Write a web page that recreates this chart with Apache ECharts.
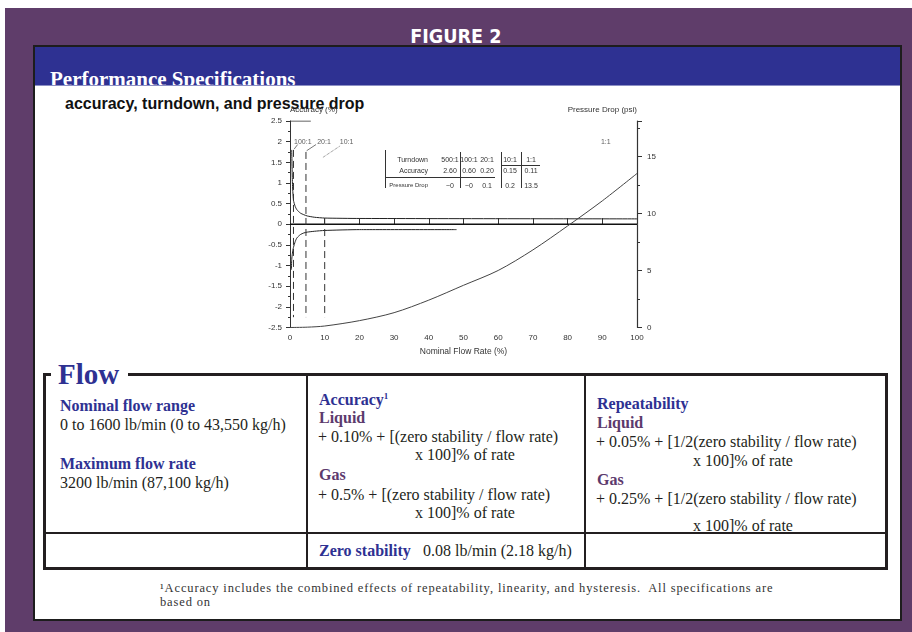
<!DOCTYPE html>
<html>
<head>
    <meta charset="utf-8"/>
    <title>Figure 2</title>
    <script src="https://cdn.jsdelivr.net/npm/echarts@6/dist/echarts.min.js"></script>
    <style>
        body { margin: 0; width: 912px; height: 632px; position: relative; overflow: hidden; background: #fff; font-family: "Liberation Serif", serif; }
        .a { position: absolute; white-space: nowrap; line-height: 1; }
        .t { font-size: 16px; color: #231f20; }
        .hb { font-size: 16px; font-weight: bold; color: #2e3192; }
        .hp { font-size: 16px; font-weight: bold; color: #5c3a6d; }
        .ln { position: absolute; background: #231f20; }
    </style>
</head>
<body>
<!-- frame -->
<div class="a" style="left:5px;top:8px;width:907px;height:624px;background:#5f3d6a;"></div>
<div class="a" style="left:0;top:23.5px;width:912px;text-align:center;">
    <span style="display:inline-block;transform:scaleX(0.88);color:#fff;font:bold 20px 'DejaVu Sans';">FIGURE 2</span>
</div>
<div class="a" style="left:33px;top:45px;width:869px;height:576px;box-sizing:border-box;background:#fff;border:2px solid #1d1d1d;"></div>
<div class="a" style="left:35px;top:47px;width:865px;height:38px;background:#2e3192;overflow:hidden;">
    <div class="a" style="left:15px;top:21.5px;color:#fff;font-size:21px;font-weight:bold;">Performance Specifications</div>
</div>
<div class="a" style="left:35px;top:85px;width:865px;height:1px;background:#8c8fc4;"></div>
<div class="a" style="left:65px;top:94.5px;font:bold 16px 'Liberation Sans';color:#111;">accuracy, turndown, and pressure drop</div>

<!-- flow table -->
<div class="a" style="left:43px;top:372.5px;width:845px;height:197.5px;box-sizing:border-box;border:3px solid #231f20;"></div>
<div class="a" style="left:51px;top:371px;width:77px;height:6px;background:#fff;"></div>
<div class="ln" style="left:306px;top:374px;width:2px;height:195px;"></div>
<div class="ln" style="left:584px;top:374px;width:2px;height:195px;"></div>
<div class="ln" style="left:44px;top:532px;width:843px;height:2px;"></div>
<div class="a" style="left:58px;top:359.7px;font-size:29px;font-weight:bold;color:#2e3192;">Flow</div>

<div class="a hb" style="left:60px;top:398.3px;">Nominal flow range</div>
<div class="a t" style="left:60px;top:416.6px;">0 to 1600 lb/min (0 to 43,550 kg/h)</div>
<div class="a hb" style="left:60px;top:455.9px;">Maximum flow rate</div>
<div class="a t" style="left:60px;top:474.9px;">3200 lb/min (87,100 kg/h)</div>

<div class="a hb" style="left:319px;top:391.6px;">Accuracy<span style="font-size:9px;position:relative;top:-6px;">1</span></div>
<div class="a hp" style="left:319px;top:409.9px;">Liquid</div>
<div class="a t" style="left:318px;top:429.3px;">+ 0.10% + [(zero stability / flow rate)</div>
<div class="a t" style="left:415px;top:447.3px;">x 100]% of rate</div>
<div class="a hp" style="left:319px;top:467.3px;">Gas</div>
<div class="a t" style="left:318px;top:486.6px;">+ 0.5% + [(zero stability / flow rate)</div>
<div class="a t" style="left:415px;top:504.9px;">x 100]% of rate</div>

<div class="a hb" style="left:597px;top:395.9px;">Repeatability</div>
<div class="a hp" style="left:597px;top:414.9px;">Liquid</div>
<div class="a t" style="left:596px;top:433.9px;">+ 0.05% + [1/2(zero stability / flow rate)</div>
<div class="a t" style="left:693px;top:452.6px;">x 100]% of rate</div>
<div class="a hp" style="left:597px;top:471.6px;">Gas</div>
<div class="a t" style="left:596px;top:490.6px;">+ 0.25% + [1/2(zero stability / flow rate)</div>
<div class="a t" style="left:693px;top:517.6px;">x 100]% of rate</div>

<div class="a hb" style="left:319px;top:543.3px;">Zero stability</div>
<div class="a t" style="left:423px;top:543.3px;">0.08 lb/min (2.18 kg/h)</div>

<div class="a" style="left:160px;top:581.5px;font-size:12.5px;letter-spacing:0.86px;color:#333;">¹Accuracy includes the combined effects of repeatability, linearity, and hysteresis.&nbsp; All specifications are</div>
<div class="a" style="left:160px;top:595.5px;font-size:12.5px;letter-spacing:0.86px;color:#333;">based on</div>

<!-- chart -->
<div id="chart1" class="a" style="left:240px;top:96px;width:420px;height:266px;"></div>

<script type="text/javascript">
    // flow rate (%) vs pressure drop (psi)
    var flowX = [0, 5, 10, 20, 30, 40, 50, 60, 70, 80, 90, 100];
    var pressureDrop = [0, 0.03, 0.13, 0.6, 1.3, 2.4, 3.7, 5.0, 6.8, 8.9, 11.1, 13.5];

    // accuracy envelope (%)
    var upperX = [0.5, 0.7, 1, 1.5, 2, 3, 4, 5, 7, 10, 20, 100];
    var upperAcc = [1.8, 1.0, 0.58, 0.43, 0.35, 0.27, 0.23, 0.2, 0.17, 0.15, 0.14, 0.13];
    var lowerX = [0.4, 0.5, 0.7, 1, 1.5, 2, 3, 4, 5, 7, 10, 20, 48];
    var lowerAcc = [-1.1, -0.85, -0.7, -0.56, -0.42, -0.33, -0.25, -0.21, -0.19, -0.17, -0.15, -0.13, -0.13];

    // turndown markers
    var markerX = [1, 4.6, 10];
    var markerTop = [1.8, 1.75, 0.15];
    var markerBottom = [-2.25, -2.25, -2.25];
    var markerNames = ['100:1', '20:1', '10:1', '1:1'];
    var markerLabelX = [3.7, 9.8, 16.3, 91];
    var markerLabelY = [2.0, 2.0, 2.0, 2.0];

    // inset table
    var tdHeaders = ['Turndown', 'Accuracy', 'Pressure Drop'];
    var tdLabels = ['500:1', '100:1', '20:1', '10:1', '1:1'];
    var tdAccuracy = ['2.60', '0.60', '0.20', '0.15', '0.11'];
    var tdPressure = ['~0', '~0', '0.1', '0.2', '13.5'];

    function zip(xs, ys) {
        return xs.map(function (x, i) { return [x, ys[i]]; });
    }

    var txt = '#333';
    var fam = 'Liberation Sans';
    var myChart1 = echarts.init(document.getElementById('chart1'));

    var series = [
        {
            name: 'zero', type: 'line', yAxisIndex: 0, showSymbol: false,
            data: [[0, 0], [100, 0]],
            lineStyle: {color: '#111', width: 1.4}
        },
        {
            name: 'upper', type: 'line', yAxisIndex: 0, showSymbol: false, smooth: 0.2,
            data: zip(upperX, upperAcc),
            lineStyle: {color: '#222', width: 1}
        },
        {
            name: 'lower', type: 'line', yAxisIndex: 0, showSymbol: false, smooth: 0.2,
            data: zip(lowerX, lowerAcc),
            lineStyle: {color: '#222', width: 1}
        },
        {
            name: 'pressure', type: 'line', yAxisIndex: 1, showSymbol: false, smooth: 0.3,
            data: zip(flowX, pressureDrop),
            lineStyle: {color: '#444', width: 1}
        },
        {
            name: 'top', type: 'line', yAxisIndex: 0, showSymbol: false,
            data: [[0, 2.5], [6, 2.5]],
            lineStyle: {color: '#333', width: 1}
        }
    ];
    markerX.forEach(function (x, i) {
        series.push({
            type: 'line', yAxisIndex: 0, showSymbol: false,
            data: [[x, markerTop[i]], [x, markerBottom[i]]],
            lineStyle: {color: '#333', width: 1, type: [7, 4]}
        });
    });
    // leaders from marker tops to labels
    [[[1.2, 1.82], [2.2, 1.93]], [[4.8, 1.78], [7.5, 1.93]], [[9.5, 1.62], [14.5, 1.9]]].forEach(function (d, i) {
        series.push({
            type: 'line', yAxisIndex: 0, showSymbol: false, data: d,
            lineStyle: {color: '#555', width: 0.8, type: i === 2 ? 'dotted' : 'solid'}
        });
    });
    series.push({
        type: 'scatter', yAxisIndex: 0, symbolSize: 0,
        data: zip(markerLabelX, markerLabelY).map(function (p, i) { return {value: p, name: markerNames[i]}; }),
        label: {show: true, position: 'inside', formatter: '{b}', color: txt, fontSize: 7, fontFamily: fam}
    });

    // inset table drawn as graphic
    var colX = [210, 229, 247, 270, 291];
    var rowY = [64, 75, 89.7];
    var headSize = [7, 7, 6];
    var g = [];
    function line(x1, y1, x2, y2) {
        g.push({type: 'line', shape: {x1: x1, y1: y1, x2: x2, y2: y2}, style: {stroke: '#333', lineWidth: 1}});
    }
    function text(x, y, s, align, size) {
        g.push({type: 'text', x: x, y: y, style: {text: s, fill: txt, font: (size || 7) + 'px ' + fam, textAlign: align || 'center', textVerticalAlign: 'middle'}});
    }
    line(145.5, 54, 145.5, 92);
    line(145.5, 81.5, 255, 81.5);
    line(220.5, 56, 220.5, 92);
    line(261.5, 56, 261.5, 92);
    line(281.5, 56, 281.5, 92);
    line(262, 69.5, 300, 69.5);
    tdHeaders.forEach(function (h, r) { text(188, rowY[r], h, 'right', headSize[r]); });
    [tdLabels, tdAccuracy, tdPressure].forEach(function (row, r) {
        row.forEach(function (v, c) { text(colX[c], rowY[r], v); });
    });

    myChart1.setOption({
        animation: false,
        grid: {left: 50, right: 23, top: 25, bottom: 34.5},
        xAxis: {
            type: 'value', min: 0, max: 100, interval: 10,
            name: 'Nominal Flow Rate (%)', nameLocation: 'middle', nameGap: 20,
            nameTextStyle: {color: txt, fontSize: 8.5, fontFamily: fam},
            axisLine: {lineStyle: {color: '#777', width: 1}},
            axisTick: {inside: true, length: 6, lineStyle: {color: '#333'}},
            axisLabel: {color: txt, fontSize: 8, fontFamily: fam, margin: 6},
            splitLine: {show: false}
        },
        yAxis: [
            {
                type: 'value', position: 'left', min: -2.5, max: 2.5, interval: 0.5,
                name: 'Accuracy (%)', nameLocation: 'end', nameGap: 7,
                nameTextStyle: {color: txt, fontSize: 8, fontFamily: fam, align: 'left'},
                axisLine: {show: true, lineStyle: {color: '#333', width: 1}},
                axisTick: {show: true, length: 4, lineStyle: {color: '#333'}},
                minorTick: {show: true, splitNumber: 2, length: 2, lineStyle: {color: '#333'}},
                axisLabel: {color: txt, fontSize: 8, fontFamily: fam, margin: 8},
                splitLine: {show: false}
            },
            {
                type: 'value', position: 'right', min: 0, max: 18.1, interval: 5,
                name: 'Pressure Drop (psi)', nameLocation: 'end', nameGap: 7,
                nameTextStyle: {color: txt, fontSize: 8, fontFamily: fam, align: 'right'},
                axisLine: {show: true, lineStyle: {color: '#333', width: 1.2}},
                axisTick: {show: true, length: 5, lineStyle: {color: '#333'}},
                minorTick: {show: true, splitNumber: 2, length: 3, lineStyle: {color: '#333'}},
                axisLabel: {color: txt, fontSize: 8, fontFamily: fam, margin: 10, showMaxLabel: false},
                splitLine: {show: false}
            }
        ],
        graphic: g,
        series: series
    });
</script>
</body>
</html>
